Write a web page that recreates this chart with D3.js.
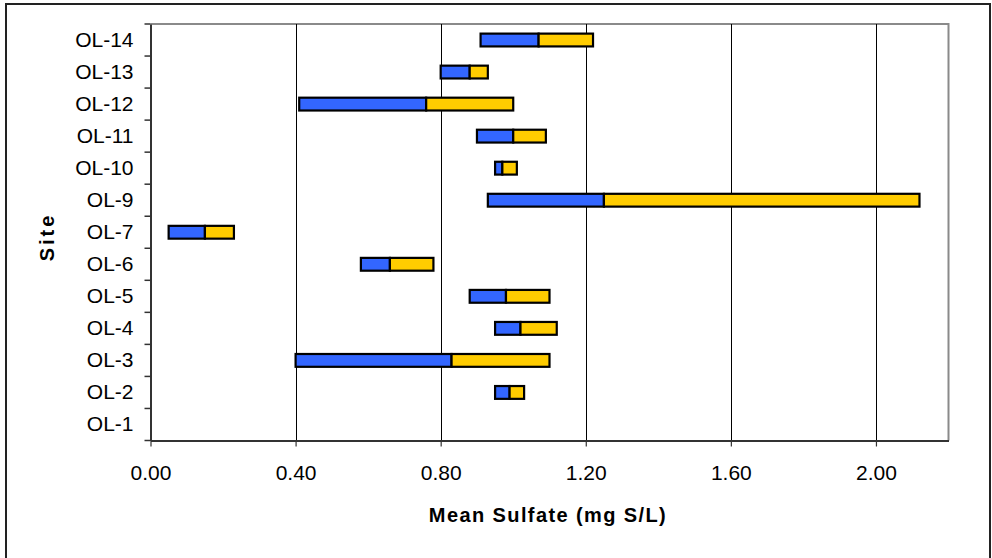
<!DOCTYPE html>
<html>
<head>
<meta charset="utf-8">
<script src="https://cdn.jsdelivr.net/npm/d3@7"></script>
<style>
  html, body { margin: 0; padding: 0; background: #fff; }
  svg { display: block; font-family: Arial, "Liberation Sans", sans-serif; }
</style>
</head>
<body>
<svg id="chart" width="992" height="558"></svg>
<script>
// Sites, top to bottom
const sites = ["OL-14","OL-13","OL-12","OL-11","OL-10","OL-9","OL-7","OL-6","OL-5","OL-4","OL-3","OL-2","OL-1"];
// Start of the range (invisible base), split point, end of range (mg S/L)
const lowValues  = [0.91, 0.80, 0.41, 0.90, 0.95, 0.93, 0.05, 0.58, 0.88, 0.95, 0.40, 0.95, null];
const midValues  = [1.07, 0.88, 0.76, 1.00, 0.97, 1.25, 0.15, 0.66, 0.98, 1.02, 0.83, 0.99, null];
const highValues = [1.22, 0.93, 1.00, 1.09, 1.01, 2.12, 0.23, 0.78, 1.10, 1.12, 1.10, 1.03, null];
const xTicks = [0, 0.4, 0.8, 1.2, 1.6, 2.0];
const xMax = 2.2;
const xTitle = "Mean Sulfate (mg S/L)";
const yTitle = "Site";

const svg = d3.select("#chart");
const pLeft = 150.5, pRight = 948.5, pTop = 24, pBottom = 440.5;

const x = d3.scaleLinear().domain([0, xMax]).range([pLeft, pRight]);
const y = d3.scaleBand().domain(sites).range([pTop, pBottom]).padding(0);
const barH = y.bandwidth() * 0.4;
const barOff = y.bandwidth() * 0.3;

// outer chart border
svg.append("rect").attr("x", 6).attr("y", 4).attr("width", 984).attr("height", 620)
  .attr("fill", "none").attr("stroke", "#222").attr("stroke-width", 2);

// plot area border (grey, top and right)
svg.append("path")
  .attr("d", `M${pLeft},${pTop}H${pRight}V${pBottom}`)
  .attr("fill", "none").attr("stroke", "#8a8a8a").attr("stroke-width", 2);

// gridlines
svg.append("g").selectAll("line").data(xTicks.filter(d => d > 0)).join("line")
  .attr("x1", d => Math.round(x(d)) + 0.5).attr("x2", d => Math.round(x(d)) + 0.5)
  .attr("y1", pTop).attr("y2", pBottom)
  .attr("stroke", "#000").attr("stroke-width", 1);

// bars
const rows = sites.map((s, i) => ({site: s, lo: lowValues[i], mid: midValues[i], hi: highValues[i]}))
  .filter(d => d.lo != null);
const gBars = svg.append("g");
gBars.selectAll("rect.blue").data(rows).join("rect").attr("class", "blue")
  .attr("x", d => x(d.lo)).attr("width", d => x(d.mid) - x(d.lo))
  .attr("y", d => y(d.site) + barOff).attr("height", barH)
  .attr("fill", "#3366FF").attr("stroke", "#000").attr("stroke-width", 2.2);
gBars.selectAll("rect.yellow").data(rows).join("rect").attr("class", "yellow")
  .attr("x", d => x(d.mid)).attr("width", d => x(d.hi) - x(d.mid))
  .attr("y", d => y(d.site) + barOff).attr("height", barH)
  .attr("fill", "#FFCC00").attr("stroke", "#000").attr("stroke-width", 2.2);

// x axis
const xAxis = svg.append("g").attr("transform", `translate(0,${pBottom})`)
  .call(d3.axisBottom(x).tickValues(xTicks).tickFormat(d3.format(".2f")).tickSize(6).tickSizeOuter(0).tickPadding(19));
xAxis.select(".domain").attr("stroke", "#333").attr("stroke-width", 2);
xAxis.selectAll(".tick line").attr("stroke", "#333").attr("stroke-width", 1.2);
xAxis.selectAll("text").attr("font-size", 21).attr("fill", "#000")
  .attr("font-family", "Arial, 'Liberation Sans', sans-serif");

// y axis
const yAxis = svg.append("g").attr("transform", `translate(${pLeft},0)`)
  .call(d3.axisLeft(y).tickSize(0).tickPadding(17));
yAxis.select(".domain").attr("stroke", "#333").attr("stroke-width", 2);
yAxis.selectAll("text").attr("font-size", 21).attr("fill", "#000")
  .attr("font-family", "Arial, 'Liberation Sans', sans-serif");
// category boundary ticks
const boundaries = sites.map(s => y(s)).concat([y(sites[sites.length - 1]) + y.bandwidth()]);
svg.append("g").selectAll("line").data(boundaries).join("line")
  .attr("x1", pLeft - 6).attr("x2", pLeft)
  .attr("y1", d => d).attr("y2", d => d)
  .attr("stroke", "#333").attr("stroke-width", 1.5);

// titles
svg.append("text").attr("x", 548).attr("y", 521.5).attr("text-anchor", "middle")
  .attr("font-size", 20).attr("font-weight", "bold").attr("letter-spacing", 1.4)
  .text(xTitle);
svg.append("text").attr("transform", `translate(53.5,237) rotate(-90)`).attr("text-anchor", "middle")
  .attr("font-size", 20).attr("font-weight", "bold").attr("letter-spacing", 3)
  .text(yTitle);
</script>
</body>
</html>
